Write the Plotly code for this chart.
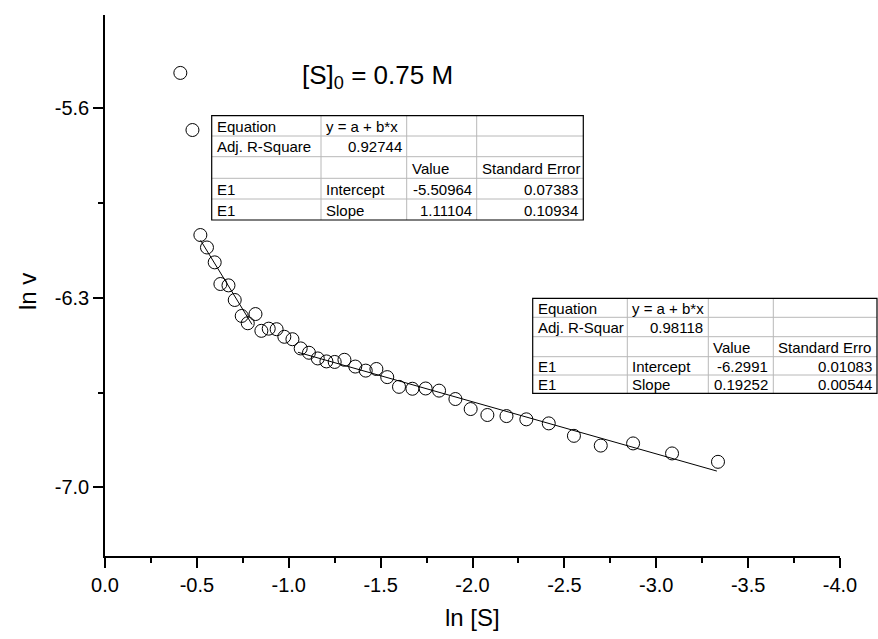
import plotly.graph_objects as go

# ---------------- data ----------------
ln_S = [-0.410, -0.476, -0.519, -0.555, -0.597, -0.628, -0.672, -0.706, -0.744, -0.819,
        -0.777, -0.851, -0.891, -0.934, -0.976, -1.020, -1.065, -1.110, -1.158, -1.205,
        -1.250, -1.303, -1.362, -1.419, -1.477, -1.536, -1.600, -1.673, -1.745, -1.818,
        -1.907, -1.990, -2.081, -2.185, -2.293, -2.415, -2.552, -2.698, -2.874, -3.086,
        -3.336]
ln_v = [-5.469, -5.680, -6.068, -6.114, -6.169, -6.249, -6.254, -6.308, -6.367, -6.360,
        -6.394, -6.422, -6.414, -6.416, -6.444, -6.453, -6.487, -6.503, -6.524, -6.535,
        -6.537, -6.529, -6.554, -6.569, -6.563, -6.593, -6.629, -6.636, -6.635, -6.643,
        -6.674, -6.711, -6.733, -6.737, -6.749, -6.764, -6.810, -6.846, -6.838, -6.875,
        -6.906]

# linear fits y = a + b*x  (from the fit tables)
fit1_a, fit1_b = -5.50964, 1.11104
fit1_x = [-0.52, -0.80]
fit2_a, fit2_b = -6.2991, 0.19252
fit2_x = [-1.05, -3.33]

x_ticks = [0.0, -0.5, -1.0, -1.5, -2.0, -2.5, -3.0, -3.5, -4.0]
y_ticks = [-5.6, -6.3, -7.0]

table1 = [["Equation", "y = a + b*x", "", ""],
          ["Adj. R-Square", "0.92744", "", ""],
          ["", "", "Value", "Standard Error"],
          ["E1", "Intercept", "-5.50964", "0.07383"],
          ["E1", "Slope", "1.11104", "0.10934"]]
table2 = [["Equation", "y = a + b*x", "", ""],
          ["Adj. R-Squar", "0.98118", "", ""],
          ["", "", "Value", "Standard Erro"],
          ["E1", "Intercept", "-6.2991", "0.01083"],
          ["E1", "Slope", "0.19252", "0.00544"]]

# ---------------- layout geometry (pixels) ----------------
W, H = 878, 639
L, R, T, B = 105, 840, 15, 556
PW, PH = R - L, B - T

def px(x):
    return (x - L) / PW

def py(y):
    return (B - y) / PH

FONT = "Liberation Sans, Arial, sans-serif"

fig = go.Figure()

fig.add_trace(go.Scatter(
    x=fit1_x, y=[fit1_a + fit1_b * v for v in fit1_x], mode="lines",
    line=dict(color="black", width=1), showlegend=False, hoverinfo="skip"))
fig.add_trace(go.Scatter(
    x=fit2_x, y=[fit2_a + fit2_b * v for v in fit2_x], mode="lines",
    line=dict(color="black", width=1), showlegend=False, hoverinfo="skip"))
fig.add_trace(go.Scatter(
    x=ln_S, y=ln_v, mode="markers",
    marker=dict(symbol="circle-open", size=13, color="black", line=dict(width=1)),
    showlegend=False))

shapes = []
annotations = []

def is_num(s):
    try:
        float(s)
        return True
    except ValueError:
        return False

def add_table(cells, col_edges, row_edges, fsize):
    # background
    shapes.append(dict(type="rect", xref="paper", yref="paper",
                       x0=px(col_edges[0]), x1=px(col_edges[-1]),
                       y0=py(row_edges[0]), y1=py(row_edges[-1]),
                       fillcolor="white", line=dict(width=0), layer="above"))
    # inner grid
    for cx in col_edges[1:-1]:
        shapes.append(dict(type="line", xref="paper", yref="paper",
                           x0=px(cx), x1=px(cx), y0=py(row_edges[0]), y1=py(row_edges[-1]),
                           line=dict(color="#b8b8b8", width=1), layer="above"))
    for ry in row_edges[1:-1]:
        shapes.append(dict(type="line", xref="paper", yref="paper",
                           x0=px(col_edges[0]), x1=px(col_edges[-1]), y0=py(ry), y1=py(ry),
                           line=dict(color="#b8b8b8", width=1), layer="above"))
    # outer border
    shapes.append(dict(type="rect", xref="paper", yref="paper",
                       x0=px(col_edges[0]), x1=px(col_edges[-1]),
                       y0=py(row_edges[0]), y1=py(row_edges[-1]),
                       line=dict(color="black", width=1.2), layer="above"))
    for r, row in enumerate(cells):
        yc = (row_edges[r] + row_edges[r + 1]) / 2
        for c, txt in enumerate(row):
            if not txt:
                continue
            if is_num(txt):
                xa, xx = "right", col_edges[c + 1] - 3
            else:
                xa, xx = "left", col_edges[c] + 3
            annotations.append(dict(xref="paper", yref="paper", x=px(xx), y=py(yc + 0.5),
                                    text=txt, showarrow=False, xanchor=xa, yanchor="middle",
                                    font=dict(family=FONT, size=fsize, color="black")))

add_table(table1, [211.7, 321, 406.7, 476.7, 583.3], [115.7, 136, 156.7, 178.3, 199, 220], 15)
add_table(table2, [532.7, 627.3, 708.3, 773.3, 877], [298.3, 317.3, 336.7, 356.7, 375, 393.3], 15)

annotations.append(dict(xref="paper", yref="paper", x=px(377), y=py(76),
                        text="[S]<sub>0</sub> = 0.75 M", showarrow=False,
                        xanchor="center", yanchor="middle",
                        font=dict(family=FONT, size=26, color="black")))
annotations.append(dict(xref="paper", yref="paper", x=px(27), y=py(292),
                        text="ln v", showarrow=False, textangle=-90,
                        xanchor="center", yanchor="middle",
                        font=dict(family=FONT, size=24, color="black")))
annotations.append(dict(xref="paper", yref="paper", x=px(472), y=py(617),
                        text="ln [S]", showarrow=False,
                        xanchor="center", yanchor="middle",
                        font=dict(family=FONT, size=24, color="black")))

fig.update_layout(
    width=W, height=H,
    margin=dict(l=L, r=W - R, t=T, b=H - B),
    paper_bgcolor="white", plot_bgcolor="white",
    font=dict(family=FONT, color="black"),
    shapes=shapes, annotations=annotations,
    xaxis=dict(range=[0, -4], tickvals=x_ticks, ticktext=[f"{v:.1f}" for v in x_ticks],
               ticks="outside", ticklen=10, tickwidth=1.5, tickcolor="black",
               minor=dict(ticks="outside", ticklen=5, tickwidth=1.5, tickcolor="black",
                          tick0=0, dtick=0.25, showgrid=False),
               showline=True, linecolor="black", linewidth=1.5,
               showgrid=False, zeroline=False, tickfont=dict(size=20, family=FONT)),
    yaxis=dict(range=[-7.254, -5.255], tickvals=y_ticks, ticktext=[f"{v:.1f}" for v in y_ticks],
               ticks="outside", ticklen=10, tickwidth=1.5, tickcolor="black",
               minor=dict(ticks="outside", ticklen=5, tickwidth=1.5, tickcolor="black",
                          tick0=-7.0, dtick=0.35, showgrid=False),
               showline=True, linecolor="black", linewidth=1.5,
               showgrid=False, zeroline=False, tickfont=dict(size=20, family=FONT)),
)

fig.write_html("out.html")
